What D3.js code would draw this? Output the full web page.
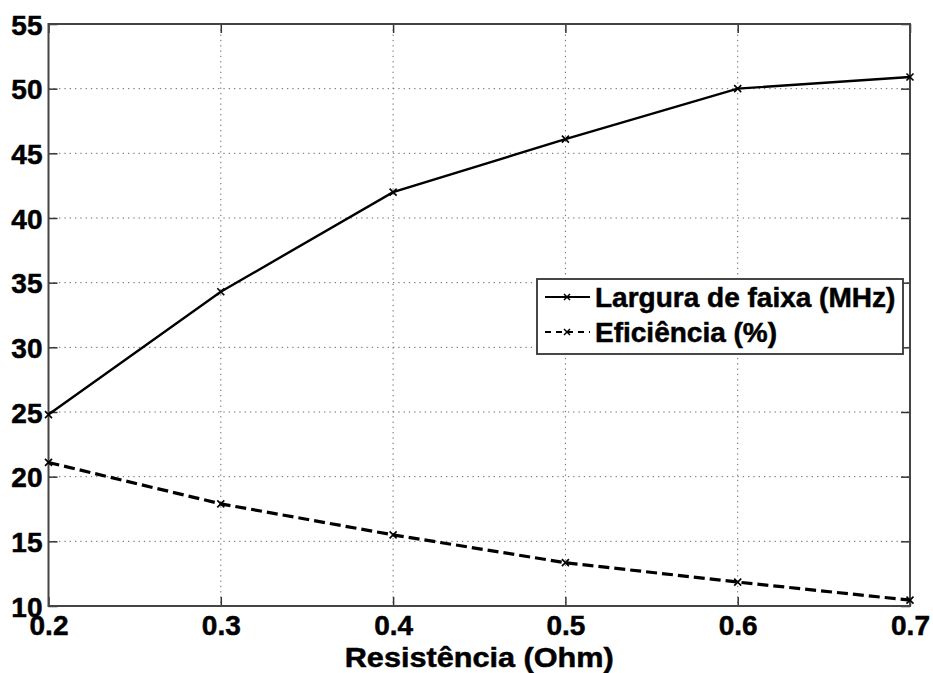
<!DOCTYPE html>
<html>
<head>
<meta charset="utf-8">
<script src="https://cdn.jsdelivr.net/npm/d3@7"></script>
<style>
  html, body { margin: 0; padding: 0; background: #fff; }
  svg { display: block; }
  text { font-family: "Liberation Sans", Arial, sans-serif; font-weight: bold; fill: #000; stroke: #000; stroke-width: 0.5px; }
</style>
</head>
<body>
<svg id="chart" width="933" height="673"></svg>
<script>
// Resistance values (Ohm) on the horizontal axis
const resistencia = [0.2, 0.3, 0.4, 0.5, 0.6, 0.7];
// Bandwidth in MHz
const larguraFaixa = [24.8, 34.3, 42.0, 46.1, 50.0, 50.9];
// Efficiency in %
const eficiencia = [21.1, 17.9, 15.5, 13.35, 11.85, 10.45];

const xTicks = [0.2, 0.3, 0.4, 0.5, 0.6, 0.7];
const yTicks = [10, 15, 20, 25, 30, 35, 40, 45, 50, 55];

const seriesNames = ["Largura de faixa (MHz)", "Eficiência (%)"];
const xTitle = "Resistência (Ohm)";

const svg = d3.select("#chart");
const plot = { left: 48.5, right: 910, top: 24, bottom: 606 };

const x = d3.scaleLinear().domain([0.2, 0.7]).range([plot.left, plot.right]);
const y = d3.scaleLinear().domain([10, 55]).range([plot.bottom, plot.top]);

// dotted grid
const grid = svg.append("g").attr("stroke", "#666").attr("stroke-width", 1)
  .attr("stroke-dasharray", "1.3,4");
grid.selectAll(".gx").data(xTicks.slice(1, -1)).join("line")
  .attr("x1", d => x(d)).attr("x2", d => x(d))
  .attr("y1", plot.top).attr("y2", plot.bottom);
grid.selectAll(".gy").data(yTicks.slice(1, -1)).join("line")
  .attr("y1", d => y(d)).attr("y2", d => y(d))
  .attr("x1", plot.left).attr("x2", plot.right);

// axes with inward ticks
const tickLen = 9;
const axB = svg.append("g").attr("transform", `translate(0,${plot.bottom})`)
  .call(d3.axisBottom(x).tickValues(xTicks).tickSizeInner(-tickLen).tickSizeOuter(0).tickPadding(9)
    .tickFormat(d3.format(".1f")));
const axT = svg.append("g").attr("transform", `translate(0,${plot.top})`)
  .call(d3.axisTop(x).tickValues(xTicks).tickSizeInner(-tickLen).tickSizeOuter(0).tickFormat(""));
const axL = svg.append("g").attr("transform", `translate(${plot.left},0)`)
  .call(d3.axisLeft(y).tickValues(yTicks).tickSizeInner(-tickLen).tickSizeOuter(0).tickPadding(6));
const axR = svg.append("g").attr("transform", `translate(${plot.right},0)`)
  .call(d3.axisRight(y).tickValues(yTicks).tickSizeInner(-tickLen).tickSizeOuter(0).tickFormat(""));

[axB, axT, axL, axR].forEach(a => {
  a.select(".domain").remove();
  a.selectAll(".tick line").attr("stroke", "#333").attr("stroke-width", 1.5);
  a.selectAll("text").attr("font-size", 28).style("font-family", "'Liberation Sans', Arial, sans-serif")
    .attr("font-weight", "bold").attr("fill", "#000");
});
axB.selectAll("text").attr("dy", "0.71em").attr("y", 9);
axL.selectAll("text").attr("dy", "0.36em");

// box
svg.append("rect")
  .attr("x", plot.left).attr("y", plot.top)
  .attr("width", plot.right - plot.left).attr("height", plot.bottom - plot.top)
  .attr("fill", "none").attr("stroke", "#444").attr("stroke-width", 2);

// series
const line = d3.line().x(d => x(d[0])).y(d => y(d[1]));
const dataL = resistencia.map((r, i) => [r, larguraFaixa[i]]);
const dataE = resistencia.map((r, i) => [r, eficiencia[i]]);

function cross(g, pts, size) {
  g.selectAll("path.mk").data(pts).join("path").attr("class", "mk")
    .attr("d", d => {
      const cx = x(d[0]), cy = y(d[1]), s = size;
      return `M${cx - s},${cy - s}L${cx + s},${cy + s}M${cx - s},${cy + s}L${cx + s},${cy - s}`;
    })
    .attr("stroke", "#000").attr("stroke-width", 1.6).attr("fill", "none");
}

const gL = svg.append("g");
gL.append("path").datum(dataL).attr("d", line)
  .attr("fill", "none").attr("stroke", "#000").attr("stroke-width", 2.4);
cross(gL, dataL, 3.5);

const gE = svg.append("g");
gE.append("path").datum(dataE).attr("d", line)
  .attr("fill", "none").attr("stroke", "#000").attr("stroke-width", 3.2)
  .attr("stroke-dasharray", "11,5");
cross(gE, dataE, 3.5);

// legend
const leg = svg.append("g");
leg.append("rect").attr("x", 537).attr("y", 279).attr("width", 366).attr("height", 75)
  .attr("fill", "#fff").attr("stroke", "#333").attr("stroke-width", 1.8);
const legRows = [
  { name: seriesNames[0], dash: null, yy: 297 },
  { name: seriesNames[1], dash: "6,5", yy: 332 }
];
legRows.forEach(r => {
  leg.append("line").attr("x1", 545).attr("x2", 590).attr("y1", r.yy).attr("y2", r.yy)
    .attr("stroke", "#000").attr("stroke-width", 2.2)
    .attr("stroke-dasharray", r.dash);
  const s = 3;
  leg.append("path")
    .attr("d", `M${567 - s},${r.yy - s}L${567 + s},${r.yy + s}M${567 - s},${r.yy + s}L${567 + s},${r.yy - s}`)
    .attr("stroke", "#000").attr("stroke-width", 1.5);
  leg.append("text").attr("x", 595).attr("y", r.yy).attr("dy", "0.36em")
    .attr("font-size", 28).text(r.name);
});

// x axis title
svg.append("text").attr("x", (plot.left + plot.right) / 2).attr("y", 667)
  .attr("text-anchor", "middle").attr("font-size", 28)
  .attr("textLength", 269).attr("lengthAdjust", "spacingAndGlyphs").text(xTitle);
</script>
</body>
</html>
